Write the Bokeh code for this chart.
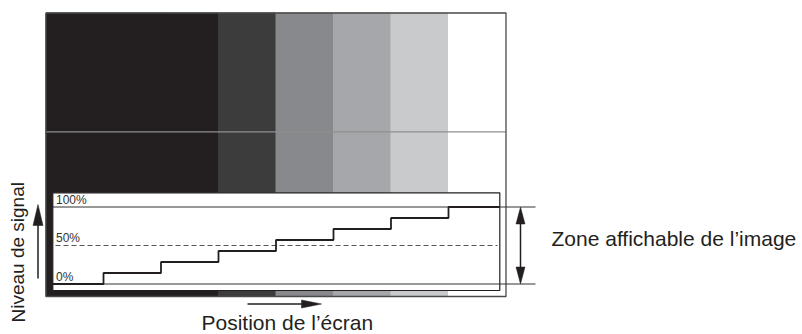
from bokeh.plotting import figure
from bokeh.models import Range1d
from bokeh.core.properties import value
from bokeh.embed import file_html
from bokeh.resources import INLINE

# ---- data ----
segments = [0, 1, 2, 3, 4, 5, 6, 7]
column_colors = ["#231f20", "#231f20", "#231f20", "#3c3c3c",
                 "#88898d", "#a6a7aa", "#c9cacc", "#ffffff"]
signal_levels = [0.0, 1/7, 2/7, 3/7, 4/7, 5/7, 6/7, 1.0]
ref_levels = [0.0, 0.5, 1.0]
ref_labels = ["0%", "50%", "100%"]
y_label = "Niveau de signal"
x_label = "Position de l\u2019écran"
zone_label = "Zone affichable de l\u2019image"

# ---- layout (screen pixel -> data) ----
W, H = 802, 334
OFF = 0
PX, PY = 57.5, 77.0      # pixels per x unit / per y unit
X0, Y0 = 45.5, 283.5     # screen position of x=0 / level 0
def dx(sx): return (sx - X0) / PX
def dy(sy): return (Y0 - sy) / PY

FONT = value("Liberation Sans")
INK = "#231f20"

p = figure(width=W, height=H, output_backend="svg", toolbar_location=None,
           x_range=Range1d(dx(OFF), dx(OFF + W)), y_range=Range1d(dy(OFF + H), dy(OFF)),
           min_border=0, outline_line_color=None)
p.axis.visible = False
p.grid.visible = False
p.background_fill_color = "white"
p.border_fill_color = "white"

ftop, fbot = dy(12.5), dy(296)

# gray scale columns
p.quad(left=segments, right=[s + 1 for s in segments], top=ftop, bottom=fbot,
       fill_color=column_colors, line_color=column_colors, line_width=1)

# middle horizontal line
p.segment(x0=[0], x1=[len(segments)], y0=[dy(131.3)], y1=[dy(131.3)],
          line_color="#8f8f8f", line_width=1.3)

# outer frame
p.quad(left=[0], right=[len(segments)], top=[ftop], bottom=[fbot],
       fill_color=None, line_color="#4a4a4a", line_width=1.3)

# inner waveform box
bl, br = dx(52.3), dx(499.3)
p.quad(left=[bl], right=[br], top=[dy(192.3)], bottom=[dy(290)],
       fill_color="white", line_color=INK, line_width=1.2)

# 0% and 100% reference lines
p.segment(x0=[bl, bl], x1=[dx(535), dx(535)], y0=[ref_levels[0], ref_levels[2]],
          y1=[ref_levels[0], ref_levels[2]], line_color="#333333", line_width=1.1)
# 50% dashed
p.segment(x0=[dx(55)], x1=[dx(497)], y0=[ref_levels[1]], y1=[ref_levels[1]],
          line_color="#555555", line_width=1.1, line_dash="5 3")

# step signal
step_x = [bl] + segments[1:] + [br]
step_y = signal_levels + [signal_levels[-1]]
p.step(x=step_x, y=step_y, mode="after", line_color=INK, line_width=1.8)

# percentage labels
p.text(x=[dx(55.5)] * 3, y=[v + 7.5 / PY for v in ref_levels], text=ref_labels,
       text_font=FONT, text_font_size="12px", text_color="#333333",
       text_baseline="middle", text_align="left")

# double arrow for the displayable zone
ax = dx(520)
p.segment(x0=[ax], x1=[ax], y0=[ref_levels[0] + 12 / PY], y1=[ref_levels[2] - 12 / PY],
          line_color=INK, line_width=1.5)
hw, hl = 4.5 / PX, 17 / PY
p.patches(xs=[[ax - hw, ax, ax + hw], [ax - hw, ax, ax + hw]],
          ys=[[1 - hl, 1, 1 - hl], [0 + hl, 0, 0 + hl]],
          fill_color=INK, line_color=INK, line_width=0.5)

# left vertical arrow (signal level)
lx = dx(37.5)
p.segment(x0=[lx], x1=[lx], y0=[dy(278)], y1=[dy(222)], line_color=INK, line_width=1.5)
p.patches(xs=[[lx - 5 / PX, lx, lx + 5 / PX]], ys=[[dy(225), dy(204), dy(225)]],
          fill_color=INK, line_color=INK, line_width=0.5)

# bottom horizontal arrow (position)
by = dy(303.5)
p.segment(x0=[dx(247)], x1=[dx(305)], y0=[by], y1=[by], line_color=INK, line_width=1.5)
p.patches(xs=[[dx(301), dx(321), dx(301)]], ys=[[by + 4 / PY, by, by - 4 / PY]],
          fill_color=INK, line_color=INK, line_width=0.5)

# texts
p.text(x=[dx(551)], y=[dy(238)], text=[zone_label], text_font=FONT,
       text_font_size="21px", text_color=INK, text_baseline="middle", text_align="left")
p.text(x=[dx(201)], y=[dy(321.5)], text=[x_label], text_font=FONT,
       text_font_size="21px", text_color=INK, text_baseline="middle", text_align="left")
p.text(x=[dx(17.5)], y=[dy(322)], text=[y_label], text_font=FONT,
       text_font_size="19px", text_color=INK, text_baseline="middle", text_align="left",
       angle=1.5708)

open("out.html", "w").write(file_html(p, INLINE))
